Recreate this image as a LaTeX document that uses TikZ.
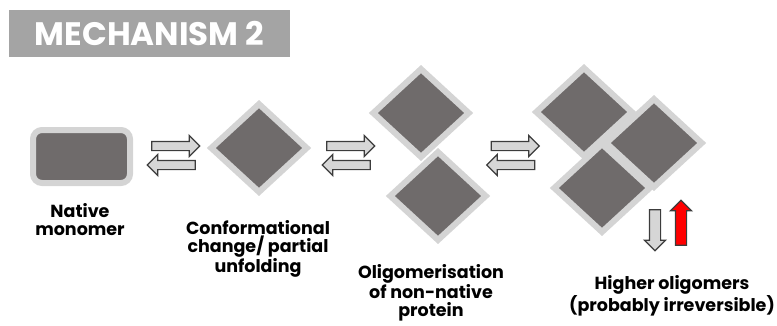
\documentclass[tikz,border=0pt]{standalone}
\usepackage{fontspec}
\setmainfont{Poppins}
\usetikzlibrary{shapes.arrows,positioning}
\definecolor{prot-dark}{HTML}{6F6B6B}
\definecolor{prot-rim}{HTML}{D4D4D4}
\definecolor{arr-fill}{HTML}{D6D6D6}
\definecolor{arr-line}{HTML}{3C3C3C}
\definecolor{hdr-gray}{HTML}{A4A4A4}

\begin{document}
\begin{tikzpicture}[x=1pt, y=-1pt, font=\fontsize{17.5}{18.5}\selectfont\bfseries,
	   dia/.style={rectangle, draw=prot-rim, fill=prot-dark, line width=6pt, inner sep=0pt, minimum size=67.5pt, yscale=0.92, rotate=45},
	   blk/.style={single arrow, draw=arr-line, fill=arr-fill, line width=1.2pt, inner sep=4pt, single arrow head extend=6pt, minimum height=48pt},
	   lbl/.style={align=center, anchor=north, inner sep=0pt}]
	  \useasboundingbox (0,0) rectangle (777,325);
	  \node[fill=hdr-gray, minimum width=281pt, minimum height=47pt, inner sep=0pt, text=white, font=\fontsize{32.5}{32.5}\selectfont\bfseries] (hdr) at (149.5,33.5) {MECHANISM 2};
	  % protein states
	  \node[draw=prot-rim, fill=prot-dark, line width=6pt, rounded corners=9pt, minimum width=97pt, minimum height=53pt] (mono) at (81.5,156.5) {};
	  \node[dia] (conf) at (259,148) {};
	  \node[dia] (olA) at (421,113) {};
	  \node[dia] (olB) at (438,196) {};
	  \node[dia] (hiA) at (584,112) {};
	  \node[dia] (hiB) at (654,143) {};
	  \node[dia] (hiC) at (602,188) {};
	  % equilibria
	  \node[blk] (f1) at (173.5,146) {};
	  \node[blk, rotate=180] (b1) at (173.5,165) {};
	  \node[blk] (f2) at (348.5,146) {};
	  \node[blk, rotate=180] (b2) at (348.5,165) {};
	  \node[blk] (f3) at (513,146) {};
	  \node[blk, rotate=180] (b3) at (513,165) {};
	  \node[blk, rotate=-90, minimum height=41pt, inner sep=5pt, single arrow head extend=5pt] (dn) at (655,227.5) {};
	  \node[blk, rotate=90, fill=red, minimum height=45pt, inner sep=5pt, single arrow head extend=5pt] (up) at (681,225.5) {};
	  % labels
	  \node[lbl] (lmono) at (80,203) {Native\\monomer};
	  \node[lbl] (lconf) at (258,220) {Conformational\\change/ partial\\unfolding};
	  \node[lbl] (lolig) at (431,264) {Oligomerisation\\of non-native\\protein};
	  \node[lbl] (lhigh) at (672,275) {Higher oligomers\\(probably irreversible)};
	\end{tikzpicture}
\end{document}
